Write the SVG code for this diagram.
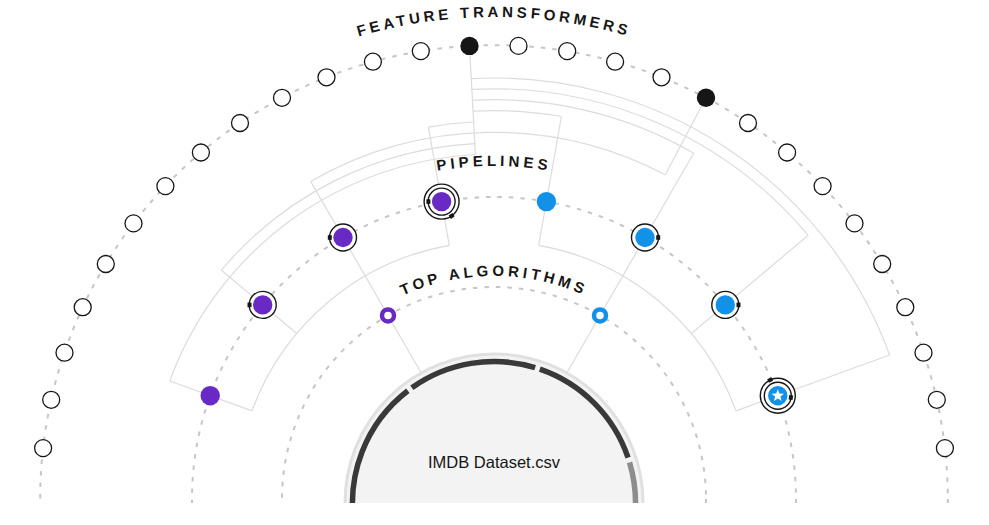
<svg xmlns="http://www.w3.org/2000/svg" width="989" height="525" viewBox="0 0 989 525">
<style>
.bg{fill:#ffffff}
.ring{fill:none;stroke:#c6c6c6;stroke-width:2;stroke-dasharray:4.5 7}
.conn{fill:none;stroke:#dcdcdc;stroke-width:1.2}
.ft{fill:#ffffff;stroke:#161616;stroke-width:1.3}
.ft-on{fill:#161616}
.label{font-family:"Liberation Sans",Arial,sans-serif;font-weight:700;font-size:15px;letter-spacing:4px;fill:#161616}
.label-t{letter-spacing:3.7px}
.label-a{letter-spacing:3.8px}
.purple{fill:#6929c4}
.blue{fill:#1192e8}
.halo{fill:#ffffff;stroke:#161616;stroke-width:1.4}
.halo2{fill:none;stroke:#161616;stroke-width:1.4}
.mark{fill:#161616}
.alg{fill:#ffffff;stroke-width:4.5}
.seg{fill:none;stroke:#393939;stroke-width:5.5}
.seg-light{fill:none;stroke:#8d8d8d;stroke-width:5.5}
.ds{font-family:"Liberation Sans",Arial,sans-serif;font-size:16.5px;fill:#161616}
</style>
<defs>
<clipPath id="clip"><rect x="0" y="0" width="989" height="503"/></clipPath>
<path id="arc-title" d="M12,499 A482,482 0 0 1 976,499"/>
<path id="arc-pipe" d="M161,499 A333,333 0 0 1 827,499"/>
<path id="arc-alg" d="M271,499 A223,223 0 0 1 717,499"/>
</defs>
<rect class="bg" x="0" y="0" width="989" height="525"/>

<g id="rings" clip-path="url(#clip)">
<circle class="ring" cx="494" cy="499" r="212"/>
<circle class="ring" cx="494" cy="499" r="302"/>
<circle class="ring" cx="494" cy="499" r="453.8"/>
</g>

<g id="labels">
<text class="label label-t"><textPath href="#arc-title" startOffset="50%" text-anchor="middle">FEATURE TRANSFORMERS</textPath></text>
<text class="label"><textPath href="#arc-pipe" startOffset="50%" text-anchor="middle">PIPELINES</textPath></text>
<text class="label label-a"><textPath href="#arc-alg" startOffset="50%" text-anchor="middle">TOP ALGORITHMS</textPath></text>
</g>

<g id="connectors">
<path class="conn" d="M252.0,410.9 A257.5,257.5 0 0 1 449.3,245.4"/>
<path class="conn" d="M538.7,245.4 A257.5,257.5 0 0 1 736.0,410.9"/>
<path class="conn" d="M169.8,381.0 A345,345 0 0 1 475.4,154.5"/>
<path class="conn" d="M221.4,270.2 A355.9,355.9 0 0 1 474.8,143.6"/>
<path class="conn" d="M310.65,181.4 A366.7,366.7 0 0 1 665.3,174.8"/>
<path class="conn" d="M428.4,127.1 A377.6,377.6 0 0 1 473.6,122.0"/>
<path class="conn" d="M473.0,111.2 A388.4,388.4 0 0 1 561.4,116.5"/>
<path class="conn" d="M472.4,100.3 A399.3,399.3 0 0 1 693.65,153.2"/>
<path class="conn" d="M471.9,89.4 A410.2,410.2 0 0 1 808.2,235.3"/>
<path class="conn" d="M471.3,78.6 A421,421 0 0 1 889.6,355.0"/>
<line class="conn" x1="252.0" y1="410.9" x2="169.8" y2="381.0"/>
<line class="conn" x1="296.7" y1="333.5" x2="221.4" y2="270.2"/>
<line class="conn" x1="420.5" y1="371.7" x2="310.65" y2="181.4"/>
<line class="conn" x1="449.3" y1="245.4" x2="428.4" y2="127.1"/>
<line class="conn" x1="538.7" y1="245.4" x2="561.4" y2="116.5"/>
<line class="conn" x1="567.5" y1="371.7" x2="693.65" y2="153.2"/>
<line class="conn" x1="691.3" y1="333.5" x2="808.2" y2="235.3"/>
<line class="conn" x1="736.0" y1="410.9" x2="889.6" y2="355.0"/>
<line class="conn" x1="475.4" y1="154.5" x2="469.5" y2="45.9"/>
<line class="conn" x1="665.3" y1="174.8" x2="706.0" y2="97.8"/>
</g>

<g id="dataset" clip-path="url(#clip)">
<circle cx="494" cy="503" r="149" fill="#f3f3f3" stroke="#e0e0e0" stroke-width="3"/>
<path class="seg" d="M354.65,527.6 A141.5,141.5 0 0 1 407.86,390.74"/>
<path class="seg" d="M411.83,387.8 A141.5,141.5 0 0 1 535.13,367.61"/>
<path class="seg" d="M539.83,369.13 A141.5,141.5 0 0 1 628.03,457.63"/>
<path class="seg-light" d="M629.53,462.34 A141.5,141.5 0 0 1 633.35,527.6"/>
<text class="ds" x="494" y="468" text-anchor="middle">IMDB Dataset.csv</text>
</g>

<g id="alg-purple"><circle class="alg" cx="388" cy="315.4" r="6" stroke="#6929c4"/></g>
<g id="alg-blue"><circle class="alg" cx="600" cy="315.4" r="6" stroke="#1192e8"/></g>

<g id="pipe-m70" transform="translate(210.2,395.7)"><circle class="purple" r="9.7"/></g>
<g id="pipe-m50" transform="translate(262.7,304.9)"><circle class="halo" r="13.5"/><rect class="mark" x="-15.2" y="-2.3" width="4" height="4.6"/><circle class="purple" r="9.7"/></g>
<g id="pipe-m30" transform="translate(343,237.5)"><circle class="halo" r="13.5"/><rect class="mark" x="-15.2" y="-2.3" width="4" height="4.6"/><circle class="purple" r="9.7"/></g>
<g id="pipe-m10" transform="translate(441.6,201.6)"><circle class="halo" r="17.5"/><circle class="halo2" r="13.5"/><rect class="mark" x="-15.2" y="-2.3" width="4" height="4.6"/><rect class="mark" x="15.5" y="-2.3" width="4" height="4.6" transform="rotate(55)"/><circle class="purple" r="9.7"/></g>
<g id="pipe-p10" transform="translate(546.4,201.6)"><circle class="blue" r="9.7"/></g>
<g id="pipe-p30" transform="translate(645,237.5)"><circle class="halo" r="13.5"/><rect class="mark" x="11.2" y="-2.3" width="4" height="4.6"/><circle class="blue" r="9.7"/></g>
<g id="pipe-p50" transform="translate(725.3,304.9)"><circle class="halo" r="13.5"/><rect class="mark" x="11.2" y="-2.3" width="4" height="4.6"/><circle class="blue" r="9.7"/></g>
<g id="pipe-p70" transform="translate(777.8,395.7)"><circle class="halo" r="17.5"/><circle class="halo2" r="13.5"/><rect class="mark" x="11.2" y="-2.3" width="4" height="4.6" transform="rotate(8)"/><rect class="mark" x="15.5" y="-2.3" width="4" height="4.6" transform="rotate(-116)"/><circle class="blue" r="9.7"/><polygon fill="#ffffff" points="0,-6.5 1.65,-2.27 6.18,-2.01 2.66,0.87 3.82,5.26 0,2.8 -3.82,5.26 -2.66,0.87 -6.18,-2.01 -1.65,-2.27"/></g>

<g id="ft-L13"><circle class="ft" cx="43.1" cy="448.1" r="8.5"/></g>
<g id="ft-L12"><circle class="ft" cx="51.2" cy="399.8" r="8.5"/></g>
<g id="ft-L11"><circle class="ft" cx="64.5" cy="352.7" r="8.5"/></g>
<g id="ft-L10"><circle class="ft" cx="82.7" cy="307.2" r="8.5"/></g>
<g id="ft-L9"><circle class="ft" cx="105.8" cy="264.0" r="8.5"/></g>
<g id="ft-L8"><circle class="ft" cx="133.5" cy="223.4" r="8.5"/></g>
<g id="ft-L7"><circle class="ft" cx="165.4" cy="186.1" r="8.5"/></g>
<g id="ft-L6"><circle class="ft" cx="200.9" cy="152.5" r="8.5"/></g>
<g id="ft-L5"><circle class="ft" cx="240.0" cy="123.0" r="8.5"/></g>
<g id="ft-L4"><circle class="ft" cx="282.0" cy="97.8" r="8.5"/></g>
<g id="ft-L3"><circle class="ft" cx="326.5" cy="77.3" r="8.5"/></g>
<g id="ft-L2"><circle class="ft" cx="372.9" cy="61.7" r="8.5"/></g>
<g id="ft-L1"><circle class="ft" cx="420.8" cy="51.1" r="8.5"/></g>
<g id="ft-L0"><circle class="ft-on" cx="469.5" cy="45.9" r="9.2"/></g>
<g id="ft-R0"><circle class="ft" cx="518.5" cy="45.9" r="8.5"/></g>
<g id="ft-R1"><circle class="ft" cx="567.2" cy="51.1" r="8.5"/></g>
<g id="ft-R2"><circle class="ft" cx="615.1" cy="61.7" r="8.5"/></g>
<g id="ft-R3"><circle class="ft" cx="661.5" cy="77.3" r="8.5"/></g>
<g id="ft-R4"><circle class="ft-on" cx="706.0" cy="97.8" r="9.2"/></g>
<g id="ft-R5"><circle class="ft" cx="748.0" cy="123.0" r="8.5"/></g>
<g id="ft-R6"><circle class="ft" cx="787.1" cy="152.5" r="8.5"/></g>
<g id="ft-R7"><circle class="ft" cx="822.6" cy="186.1" r="8.5"/></g>
<g id="ft-R8"><circle class="ft" cx="854.5" cy="223.4" r="8.5"/></g>
<g id="ft-R9"><circle class="ft" cx="882.2" cy="264.0" r="8.5"/></g>
<g id="ft-R10"><circle class="ft" cx="905.3" cy="307.2" r="8.5"/></g>
<g id="ft-R11"><circle class="ft" cx="923.5" cy="352.7" r="8.5"/></g>
<g id="ft-R12"><circle class="ft" cx="936.8" cy="399.8" r="8.5"/></g>
<g id="ft-R13"><circle class="ft" cx="944.9" cy="448.1" r="8.5"/></g>
</svg>
